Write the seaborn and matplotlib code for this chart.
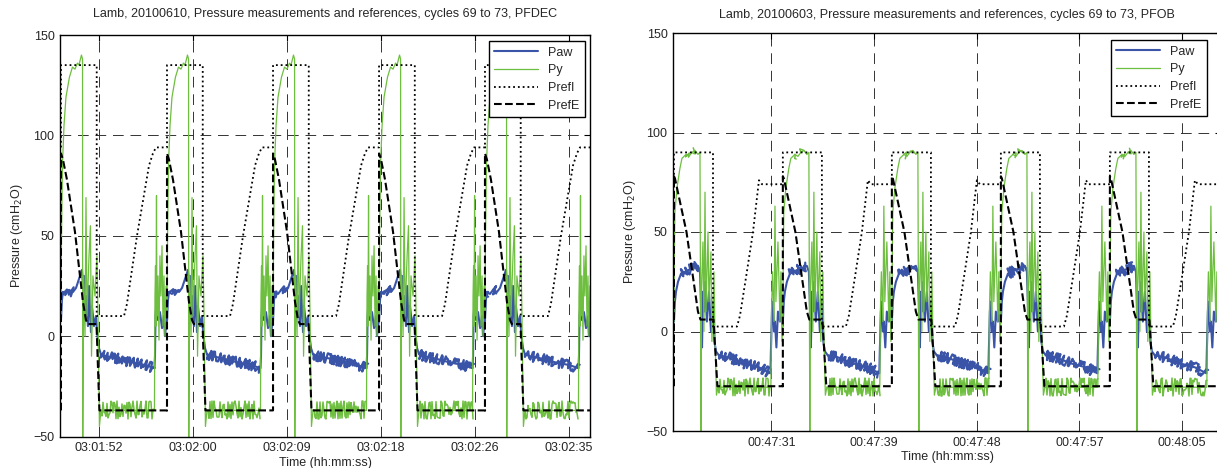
import matplotlib
matplotlib.use("Agg")
import matplotlib.pyplot as plt
import numpy as np
import pandas as pd
import seaborn as sns

# ---- left panel (PFDEC), one breathing cycle, seconds from cycle start
left_starts = [0.09, 9.88, 19.67, 29.46, 39.24]

left_prefi_t = [0, 0, 3.30, 3.30, 5.82, 6.09, 7.02, 8.13, 8.49, 8.77, 9.79]
left_prefi_v = [94, 135, 135, 10, 10, 16, 50, 85, 91, 94, 94]

left_prefe_t = [0, 0, 0.18, 0.55, 1.29, 2.03, 2.31, 2.49, 3.28, 3.55, 9.79]
left_prefe_v = [-37, 91, 88, 78, 52, 17, 8, 6, 6, -37, -37]

left_py_t = [0, 0.05, 0.14, 0.28, 0.46, 0.78, 1.06, 1.29, 1.52, 1.66,
             1.89, 1.99, 2.01, 2.08, 2.22, 2.31, 2.40, 2.59, 2.72, 2.82,
             2.95, 3.14, 3.32, 3.42, 3.55, 3.69, 8.63, 8.68, 8.73, 8.77,
             8.82, 8.86, 8.96, 9.05, 9.14, 9.23, 9.33, 9.42, 9.51, 9.60,
             9.70, 9.79]
left_py_v = [10, 50, 86, 105, 119, 129, 134, 133, 136, 135,
             140, 138, -52, 30, 0, 69, 10, 40, 55, -10,
             30, 20, 40, 10, -45, -37, -37, 20, 35, 5,
             70, 10, 30, -2, 40, 20, 45, 5, 30, 0,
             25, 10]

left_paw_t = [0, 0.09, 0.18, 0.46, 0.74, 1.11, 1.39, 1.57, 1.75, 1.94,
              2.03, 2.12, 2.22, 2.31, 2.49, 2.59, 2.77, 2.86, 3.05, 3.23,
              3.37, 3.51, 3.69, 4.16, 5.08, 6.46, 7.85, 8.63, 8.68, 8.73,
              8.86, 8.96, 9.14, 9.33, 9.51, 9.60, 9.70, 9.79]
left_paw_v = [8, 18, 22, 21, 23, 22, 24, 27, 30, 33,
              25, 30, 10, 20, 5, 25, 2, 15, 5, 10,
              0, -6, -9, -10, -11, -13, -14.5, -16, -10, 10,
              20, 8, 12, 4, 10, 0, 5, 8]

left_ticks = [3.57, 12.25, 20.93, 29.61, 38.29, 46.97]
left_labels = ["03:01:52", "03:02:00", "03:02:09", "03:02:18", "03:02:26", "03:02:35"]

# ---- right panel (PFOB)
right_starts = [0.08, 9.20, 18.33, 27.46, 36.59]

right_prefi_t = [0, 0, 3.27, 3.27, 5.28, 5.53, 6.03, 6.62, 7.12, 7.37, 9.13]
right_prefi_v = [74, 90, 90, 2.5, 2.5, 8, 27, 50, 76, 74, 74]

right_prefe_t = [0, 0, 0.08, 1.05, 2.01, 2.22, 3.31, 3.64, 9.13]
right_prefe_v = [-27.5, 78, 77, 50, 10, 6, 6, -27.5, -27.5]

right_py_t = [0, 0.04, 0.08, 0.25, 0.50, 0.67, 1.01, 1.26, 1.51, 1.76,
              2.01, 2.18, 2.26, 2.30, 2.43, 2.51, 2.60, 2.68, 2.85, 2.93,
              3.10, 3.18, 3.35, 3.43, 3.56, 3.69, 8.12, 8.17, 8.25, 8.38,
              8.46, 8.54, 8.71, 8.88, 8.96, 9.05, 9.13]
right_py_v = [5, 40, 60, 72, 82, 87, 89, 88, 90, 91,
              89, 90, -52, 20, 45, 0, 70, 10, 50, 15,
              40, -5, 30, 0, -32, -28, -28, 10, 30, 5,
              63, 15, 45, 5, 30, -5, 5]

right_paw_t = [0, 0.08, 0.17, 0.34, 0.59, 0.92, 1.26, 1.68, 2.01, 2.18,
               2.26, 2.35, 2.43, 2.51, 2.60, 2.76, 2.93, 3.10, 3.27, 3.39,
               3.52, 3.77, 4.61, 5.86, 7.12, 8.08, 8.12, 8.21, 8.29, 8.38,
               8.46, 8.58, 8.71, 8.88, 8.96, 9.05, 9.13]
right_paw_v = [5, 15, 20, 25, 29, 30, 31, 32, 33, 30,
               15, -8, 20, 10, 25, 5, 20, 0, 15, -5,
               -10, -12, -13, -16, -18, -21, -10, 10, 15, 0,
               5, -8, 10, 5, 15, 5, 5]

right_ticks = [8.24, 16.84, 25.44, 34.04, 42.64]
right_labels = ["00:47:31", "00:47:39", "00:47:48", "00:47:57", "00:48:05"]

titles = ["Lamb, 20100610, Pressure measurements and references, cycles 69 to 73, PFDEC",
          "Lamb, 20100603, Pressure measurements and references, cycles 69 to 73, PFOB"]


def cycles(starts, tt, vv):
    t = np.concatenate([s + np.array(tt) for s in starts])
    v = np.tile(vv, len(starts))
    return pd.DataFrame({"t": t, "p": v})


def noisy(ax, df, pxs, color, lw, amp_lo, amp_hi):
    # redraw the gently sloped stretches with a jittery stroke (sensor noise look)
    t, p = df["t"].to_numpy(), df["p"].to_numpy()
    pxu = ax.bbox.height / 200.0
    for lo in (True, False):
        xs, ys = [], []
        for i in range(len(t) - 1):
            dx = (t[i + 1] - t[i]) * pxs
            dy = abs(p[i + 1] - p[i]) * pxu
            if dx <= 0 or dy > 0.8 * dx:
                continue
            if ((p[i] + p[i + 1]) / 2 < 0) != lo:
                continue
            if xs and xs[-1] == t[i] and ys[-1] == p[i]:
                xs.append(t[i + 1]); ys.append(p[i + 1])
            else:
                xs += [np.nan, t[i], t[i + 1]]; ys += [np.nan, p[i], p[i + 1]]
        ln, = ax.plot(xs, ys, color=color, lw=lw, label="_nolegend_")
        ln.set_sketch_params(amp_lo if lo else amp_hi, 1.3, 2)


sns.set_style("white")
plt.rcParams["font.family"] = ["Liberation Sans", "DejaVu Sans"]
plt.rcParams["font.size"] = 9

fig = plt.figure(figsize=(12.17, 4.68), dpi=100)
ax1 = fig.add_axes([60 / 1217, 31.5 / 468, 530 / 1217, 401.5 / 468])
ax2 = fig.add_axes([673 / 1217, 37 / 468, 548 / 1217, 398 / 468])

panels = [
    (ax1, left_starts, (left_paw_t, left_paw_v), (left_py_t, left_py_v),
     (left_prefi_t, left_prefi_v), (left_prefe_t, left_prefe_v),
     10.83, 530 / 10.83, left_ticks, left_labels, (0.9906, 0.985)),
    (ax2, right_starts, (right_paw_t, right_paw_v), (right_py_t, right_py_v),
     (right_prefi_t, right_prefi_v), (right_prefe_t, right_prefe_v),
     11.94, 548 / 11.94, right_ticks, right_labels, (0.9745, 0.982)),
]

for i, (ax, starts, paw, py, prefi, prefe, pxs, tmax, ticks, labels, anchor) in enumerate(panels):
    paw_df = cycles(starts, *paw)
    py_df = cycles(starts, *py)
    sns.lineplot(data=paw_df, x="t", y="p", estimator=None, sort=False,
                 color="#3a55a8", lw=1.5, label="Paw", ax=ax)
    noisy(ax, paw_df, pxs, "#3a55a8", 1.6, 5.0, 5.0)
    sns.lineplot(data=py_df, x="t", y="p", estimator=None, sort=False,
                 color="#6ebf40", lw=0.9, label="Py", ax=ax)
    noisy(ax, py_df, pxs, "#6ebf40", 1.1, 9.0, 3.5)
    sns.lineplot(data=cycles(starts, *prefi), x="t", y="p", estimator=None, sort=False,
                 color="black", lw=1.3, ls=":", label="PrefI", ax=ax)
    sns.lineplot(data=cycles(starts, *prefe), x="t", y="p", estimator=None, sort=False,
                 color="black", lw=1.5, ls="--", label="PrefE", ax=ax)

    ax.set_xlim(0, tmax)
    ax.set_ylim(-50, 150)
    ax.set_xticks(ticks)
    ax.set_xticklabels(labels)
    ax.set_yticks([-50, 0, 50, 100, 150])
    ax.set_axisbelow(True)
    ax.grid(True, color="0.2", lw=0.7, ls=(0, (11, 7)))
    ax.tick_params(direction="in", length=4, top=True, right=True, labelsize=9, pad=4,
                   color="black")
    for sp in ax.spines.values():
        sp.set_color("black")
        sp.set_linewidth(1.0)
    ax.set_xlabel("Time (hh:mm:ss)", fontsize=9, labelpad=2)
    ax.set_ylabel("Pressure (cmH$_2$O)", fontsize=9, labelpad=6)
    ax.set_title(titles[i], fontsize=9, pad=13 if i == 0 else 11)

    leg = ax.legend(loc="upper right", bbox_to_anchor=anchor, borderaxespad=0,
                    fancybox=False, framealpha=1, edgecolor="black", fontsize=9,
                    handlelength=3.5, labelspacing=0.45, borderpad=0.45)
    leg.get_frame().set_linewidth(1.0)

fig.savefig("out.png", dpi=100)
